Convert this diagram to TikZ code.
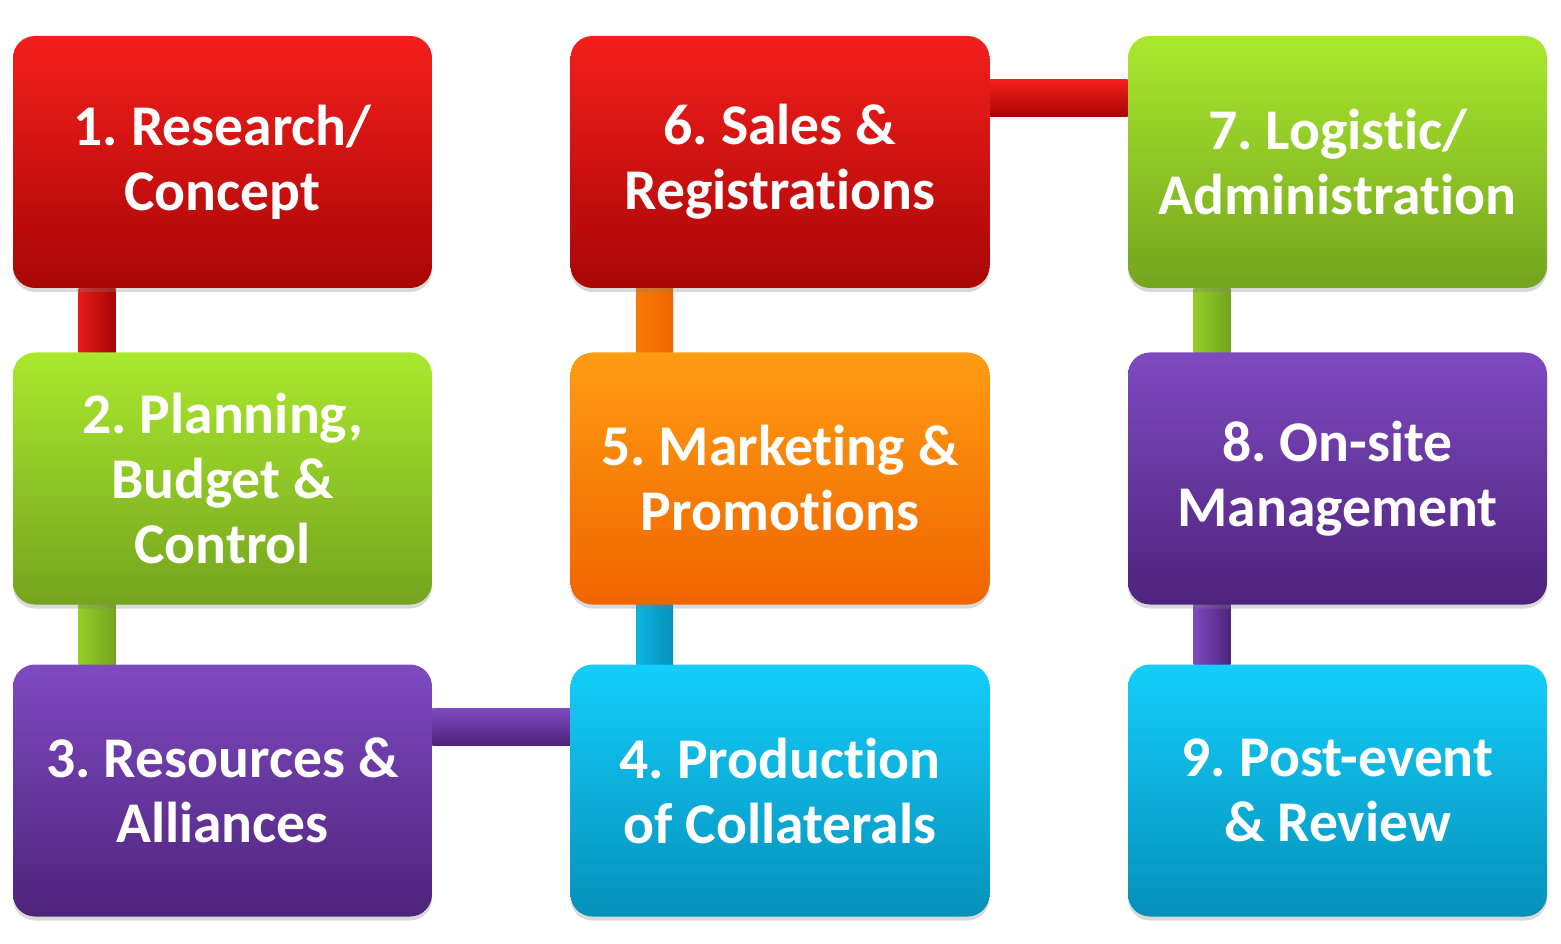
\documentclass[tikz,border=0pt]{standalone}
\usepackage{fontspec}
\setmainfont{Carlito}[Ligatures=NoCommon]
\usepackage{xcolor}
\usetikzlibrary{positioning,shadows,backgrounds}
\definecolor{RedTop}{HTML}{F41F1C}
\definecolor{RedBot}{HTML}{A80606}
\definecolor{GreenTop}{HTML}{AAE82E}
\definecolor{GreenBot}{HTML}{74A41E}
\definecolor{PurpleTop}{HTML}{7E4AC0}
\definecolor{PurpleBot}{HTML}{4E237C}
\definecolor{OrangeTop}{HTML}{FF9C12}
\definecolor{OrangeBot}{HTML}{F06400}
\definecolor{CyanTop}{HTML}{14CEFA}
\definecolor{CyanBot}{HTML}{0590BA}
\frenchspacing

\begin{document}
\begin{tikzpicture}[x=0.5pt,y=0.5pt,
    every node/.style={font=\bfseries\fontsize{28.8}{32.5}\selectfont},
    stage/.style={rounded corners=11pt, minimum width=209.5pt,
      minimum height=126pt, inner sep=0pt, align=center, text=white,
      drop shadow={shadow xshift=0pt, shadow yshift=-2pt, opacity=.3}},
    redbox/.style={stage, top color=RedTop, bottom color=RedBot},
    greenbox/.style={stage, top color=GreenTop, bottom color=GreenBot},
    purplebox/.style={stage, top color=PurpleTop, bottom color=PurpleBot},
    orangebox/.style={stage, top color=OrangeTop, bottom color=OrangeBot},
    cyanbox/.style={stage, top color=CyanTop, bottom color=CyanBot}]
  \useasboundingbox (0,0) rectangle (1561,943);

  % first column
  \node[redbox]    (s1) at (222.5,781)   {1. Research/\\Concept};
  \node[greenbox]  (s2) at (222.5,464.5) {2. Planning,\\Budget \&\\Control};
  \node[purplebox] (s3) at (222.5,152.5) {3. Resources \&\\Alliances};
  % second column
  \node[cyanbox]   (s4) at (780,152.5)   {4. Production\\of Collaterals};
  \node[orangebox] (s5) at (780,464.5)   {5. Marketing \&\\Promotions};
  \node[redbox]    (s6) at (780,781)     {6. Sales \&\\Registrations};
  % third column
  \node[greenbox]  (s7) at (1337.5,781)  {7. Logistic/\\Administration};
  \node[purplebox] (s8) at (1337.5,464.5){8. On-site\\Management};
  \node[cyanbox]   (s9) at (1337.5,152.5){9. Post-event\\\& Review};

  % bars between the stages
  \begin{scope}[on background layer]
    \shade[left color=RedTop!80!RedBot, right color=RedBot]
      ([xshift=-72pt]s1.south) rectangle ([xshift=-53.5pt]s2.north);
    \shade[left color=GreenTop!60!GreenBot, right color=GreenBot]
      ([xshift=-72pt]s2.south) rectangle ([xshift=-53.5pt]s3.north);
    \shade[top color=PurpleTop, bottom color=PurpleBot]
      ([yshift=41.25pt]s3.east) rectangle ([yshift=22.75pt]s4.west);
    \shade[left color=CyanTop!60!CyanBot, right color=CyanBot]
      ([xshift=-72pt]s4.north) rectangle ([xshift=-53.5pt]s5.south);
    \shade[left color=OrangeTop!40!OrangeBot, right color=OrangeBot]
      ([xshift=-72pt]s5.north) rectangle ([xshift=-53.5pt]s6.south);
    \shade[top color=RedTop, bottom color=RedBot]
      ([yshift=41.25pt]s6.east) rectangle ([yshift=22.75pt]s7.west);
    \shade[left color=GreenTop!60!GreenBot, right color=GreenBot]
      ([xshift=-72pt]s7.south) rectangle ([xshift=-53.5pt]s8.north);
    \shade[left color=PurpleTop, right color=PurpleBot]
      ([xshift=-72pt]s8.south) rectangle ([xshift=-53.5pt]s9.north);
  \end{scope}
\end{tikzpicture}
\end{document}
